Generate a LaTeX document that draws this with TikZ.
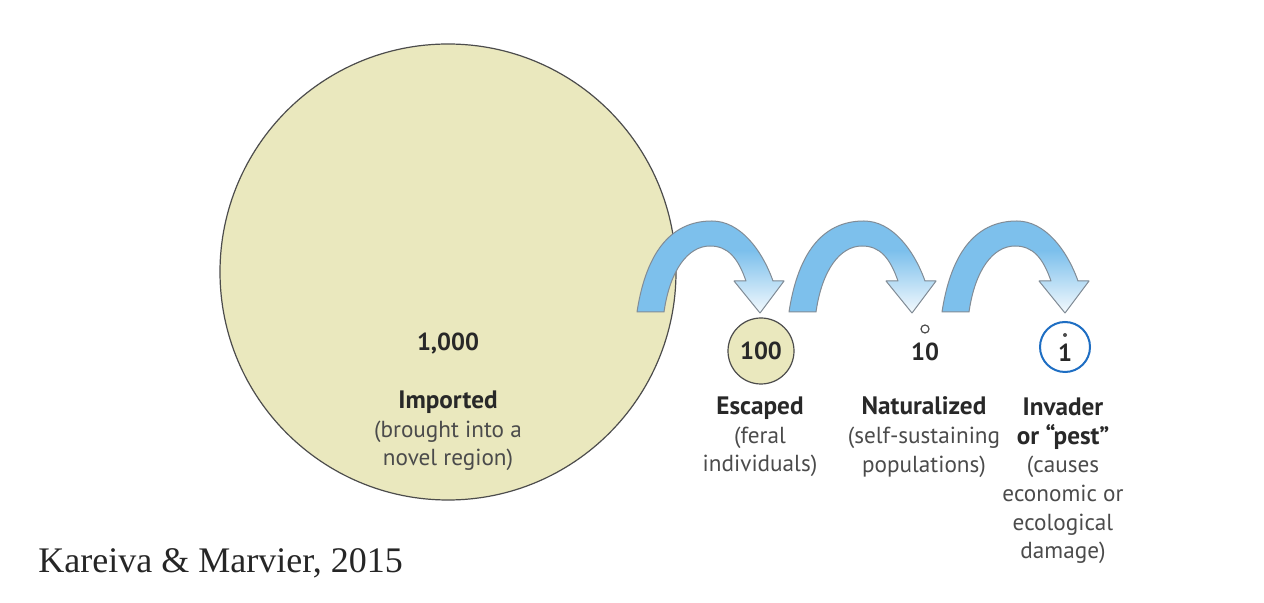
\documentclass[tikz,border=0pt]{standalone}
\usepackage{fontspec}
\setmainfont{PT Sans}
\newfontfamily\citefont{Liberation Serif}
\definecolor{circfill}{RGB}{234,232,190}
\definecolor{arrowblue}{RGB}{125,192,236}
\definecolor{arrowedge}{RGB}{130,140,150}
\definecolor{txtdark}{RGB}{40,40,40}
\definecolor{txtgray}{RGB}{75,75,75}
\definecolor{ringblue}{RGB}{30,110,195}
\newcommand{\arrowshape}{(-123,-1) .. controls (-112,-73) and (-80,-92) .. (-48,-92)
  .. controls (-20,-92) and (2,-63) .. (13,-32) -- (24,-32) -- (0,0) -- (-26,-32) -- (-14,-32)
  .. controls (-22,-55) and (-32,-67) .. (-50,-67)
  .. controls (-72,-67) and (-90,-43) .. (-96,-1) -- cycle}
\newcommand{\bl}[1]{{\fontsize{12.6}{14.3}\selectfont\bfseries\color{txtdark}#1}}
\tikzset{
  archarrow/.pic={
    \fill[arrowblue] \arrowshape;
    \begin{scope}
      \clip \arrowshape;
      \shade[top color=arrowblue, bottom color=arrowblue!6] (-40,-62) rectangle (30,2);
    \end{scope}
    \draw[arrowedge, line width=0.5pt, line join=round] \arrowshape;
  },
  numtext/.style={font=\bfseries\fontsize{12.3}{14.3}\selectfont, text=txtdark, inner sep=0pt},
  labeltext/.style={font=\fontsize{11.6}{14.3}\selectfont, text=txtgray, align=center, inner sep=0pt},
  popcircle/.style={circle, draw=black!70, fill=circfill, inner sep=0pt, line width=0.6pt},
}
\begin{document}
\begin{tikzpicture}[x=0.5pt,y=-0.5pt]
\useasboundingbox (0,0) rectangle (1264,603);
\fill[white] (0,0) rectangle (1264,603);

% big circle
\node[popcircle, minimum size=228pt] (imported) at (448,272) {};
\node[numtext] (n1000) at (448,344) {1,000};
\node[labeltext] (limported) at (448,431) {\bl{Imported}\\(brought into a\\novel region)};

% arrows
\pic at (760,313) {archarrow};
\pic at (912,313) {archarrow};
\pic at (1065,313) {archarrow};

% 100
\node[popcircle, minimum size=33pt] (escaped) at (761,351) {};
\node[numtext] (n100) at (761,351) {100};
\node[labeltext] (lescaped) at (760,437) {\bl{Escaped}\\(feral\\individuals)};

% 10
\node[circle, draw=black!70, line width=0.6pt, minimum size=4pt, inner sep=0pt] (natdot) at (925,329) {};
\node[numtext] (n10) at (925,352) {10};
\node[labeltext] (lnat) at (924,437) {\bl{Naturalized}\\(self-sustaining\\populations)};

% 1
\node[circle, fill=black!70, minimum size=2pt, inner sep=0pt] (invdot) at (1065,335) {};
\node[numtext] (n1) at (1065,353) {1};
\node[circle, draw=ringblue, line width=1pt, minimum size=25pt, inner sep=0pt] (ring) at (1065,347) {};
\node[labeltext] (linv) at (1063,481) {\bl{Invader}\\\bl{or “pest”}\\(causes\\economic or\\ecological\\damage)};

% citation
\node[anchor=base west, inner sep=0pt, font=\citefont\fontsize{18}{21}\selectfont, text=black!85] (cite) at (38,573) {Kareiva \& Marvier, 2015};
\end{tikzpicture}
\end{document}
